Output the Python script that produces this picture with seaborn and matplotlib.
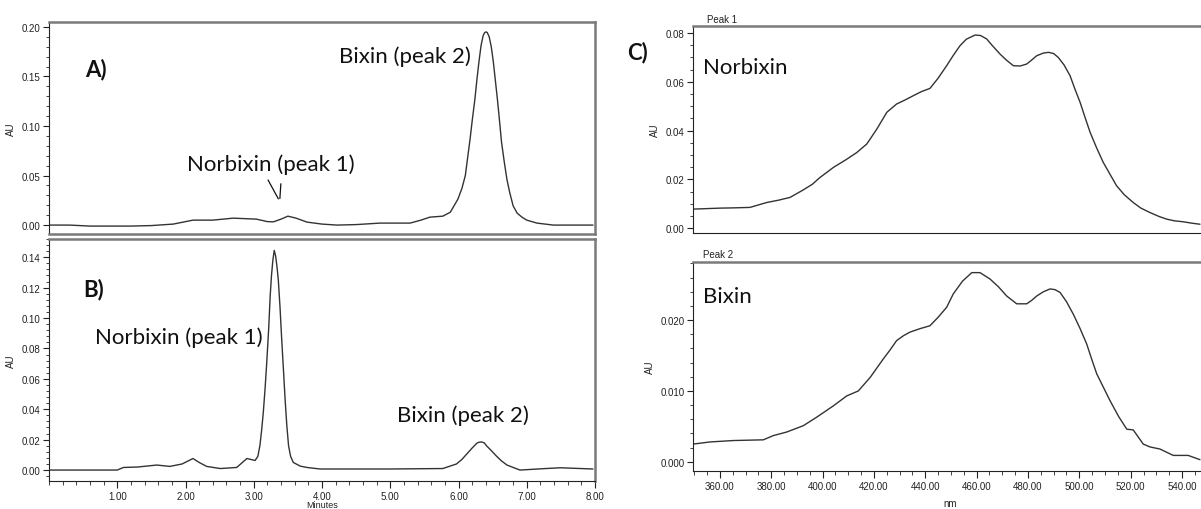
import numpy as np
import pandas as pd
import seaborn as sns
import matplotlib.pyplot as plt
from matplotlib.ticker import MultipleLocator, FormatStrFormatter

# Chromatogram A (sample) - retention time (min) vs absorbance
time_a = [0.0, 0.3, 0.6, 0.9, 1.2, 1.5, 1.82, 2.11, 2.4, 2.7, 3.04, 3.2, 3.29, 3.4, 3.5, 3.62,
          3.78, 4.0, 4.22, 4.5, 4.85, 5.29, 5.45, 5.58, 5.77, 5.88, 5.99, 6.05, 6.10, 6.13,
          6.17, 6.20, 6.24, 6.27, 6.30, 6.33, 6.36, 6.38, 6.40, 6.42, 6.45, 6.48, 6.51, 6.54,
          6.57, 6.60, 6.63, 6.67, 6.71, 6.75, 6.80, 6.86, 6.93, 7.0, 7.15, 7.39, 7.7, 7.97]
au_a = [0.0, 0.0, -0.001, -0.001, -0.001, -0.0005, 0.001, 0.005, 0.005, 0.007, 0.006, 0.0035,
        0.0033, 0.006, 0.009, 0.007, 0.003, 0.001, 0.0, 0.0005, 0.002, 0.002, 0.005, 0.008,
        0.009, 0.013, 0.026, 0.037, 0.050, 0.066, 0.087, 0.105, 0.127, 0.147, 0.165, 0.181,
        0.191, 0.194, 0.195, 0.1945, 0.190, 0.180, 0.165, 0.146, 0.127, 0.106, 0.084, 0.064,
        0.046, 0.033, 0.0195, 0.012, 0.008, 0.005, 0.002, 0.0, 0.0, 0.0]

# Chromatogram B (standards)
time_b = [0.0, 0.5, 1.0, 1.09, 1.3, 1.58, 1.77, 1.95, 2.11, 2.2, 2.31, 2.51, 2.75, 2.90, 3.02,
          3.06, 3.09, 3.115, 3.14, 3.165, 3.19, 3.22, 3.24, 3.26, 3.28, 3.30, 3.32, 3.34, 3.36,
          3.385, 3.41, 3.435, 3.46, 3.485, 3.51, 3.54, 3.58, 3.68, 3.78, 3.97, 4.41, 5.0, 5.77,
          5.97, 6.05, 6.12, 6.2, 6.27, 6.30, 6.34, 6.38, 6.41, 6.48, 6.56, 6.63, 6.71, 6.90,
          7.2, 7.49, 7.97]
au_b = [0.0, 0.0, 0.0, 0.0017, 0.002, 0.0033, 0.0024, 0.004, 0.0076, 0.005, 0.0024, 0.001,
        0.0017, 0.0076, 0.0063, 0.009, 0.016, 0.026, 0.038, 0.053, 0.0705, 0.094, 0.114, 0.128,
        0.138, 0.1445, 0.141, 0.134, 0.125, 0.107, 0.0857, 0.066, 0.046, 0.029, 0.016, 0.009,
        0.005, 0.0026, 0.0017, 0.0007, 0.0007, 0.0007, 0.001, 0.004, 0.007, 0.0105, 0.0145,
        0.0177, 0.0183, 0.0185, 0.0178, 0.016, 0.0128, 0.009, 0.006, 0.0033, 0.0, 0.0008,
        0.0015, 0.0007]

# UV-Vis spectrum of peak 1 (norbixin)
nm_1 = [349.6, 360.0, 365.0, 371.7, 378.2, 383.0, 387.3, 392.5, 396.0, 399.0, 404.2, 409.0,
        413.3, 417.2, 421.1, 425.0, 428.8, 432.0, 435.3, 438.5, 441.8, 445.0, 448.3, 451.0,
        453.5, 456.0, 459.4, 461.5, 463.9, 466.0, 469.1, 471.5, 474.3, 477.0, 479.5, 481.5,
        483.4, 486.0, 488.0, 490.0, 491.8, 494.0, 496.4, 498.3, 500.3, 502.2, 504.2, 506.7,
        509.3, 512.0, 514.5, 517.5, 521.0, 524.0, 527.5, 531.0, 534.0, 537.0, 540.5, 544.0,
        547.0]
au_1 = [0.0078, 0.0082, 0.0083, 0.0085, 0.0105, 0.0115, 0.0126, 0.0157, 0.018, 0.0208, 0.0249,
        0.028, 0.031, 0.0345, 0.0406, 0.0475, 0.0509, 0.0525, 0.0543, 0.056, 0.0573, 0.0615,
        0.0666, 0.071, 0.0748, 0.0775, 0.0792, 0.079, 0.0776, 0.075, 0.0714, 0.069, 0.0666,
        0.0665, 0.0673, 0.069, 0.0707, 0.0718, 0.0721, 0.0716, 0.070, 0.067, 0.0625, 0.057,
        0.0516, 0.0455, 0.0393, 0.033, 0.027, 0.022, 0.0174, 0.0137, 0.0105, 0.0082, 0.0064,
        0.0048, 0.0037, 0.003, 0.0026, 0.002, 0.0016]

# UV-Vis spectrum of peak 2 (bixin)
nm_2 = [349.6, 356.1, 365.2, 376.9, 380.8, 386.0, 392.5, 397.7, 404.2, 409.4, 413.9, 418.5,
        423.6, 426.3, 428.8, 431.5, 434.0, 438.0, 441.8, 445.0, 448.3, 450.9, 454.5, 458.1,
        461.3, 465.2, 468.5, 471.7, 475.6, 479.5, 481.5, 483.4, 486.0, 488.6, 490.5, 492.5,
        495.0, 497.7, 500.3, 502.9, 504.8, 506.8, 509.4, 512.0, 515.3, 518.5, 521.0, 524.9,
        527.5, 531.4, 536.6, 542.4, 547.0]
au_2 = [0.0025, 0.0028, 0.0030, 0.0031, 0.0037, 0.0042, 0.0051, 0.0063, 0.0079, 0.0093, 0.0100,
        0.0119, 0.0145, 0.0158, 0.0171, 0.0178, 0.0183, 0.0188, 0.0192, 0.0204, 0.0218, 0.0237,
        0.0255, 0.0267, 0.0267, 0.0258, 0.0247, 0.0234, 0.0223, 0.0223, 0.0228, 0.0234, 0.0240,
        0.0244, 0.0243, 0.0239, 0.0226, 0.0208, 0.0188, 0.0166, 0.0145, 0.0124, 0.0105, 0.0086,
        0.0064, 0.0046, 0.0045, 0.0025, 0.0021, 0.0018, 0.0009, 0.0009, 0.0003]

sns.set_style("ticks")
plt.rcParams['font.family'] = ['Liberation Sans', 'DejaVu Sans']
plt.rcParams['font.size'] = 7

line_col = "#333333"
spine_gray = "#7a7a7a"
label_font = dict(family=['Lato', 'DejaVu Sans'], fontsize=16, color="#111111")
bold_font = dict(family=['Lato', 'DejaVu Sans'], fontsize=16, fontweight='bold', color="#111111")

W, H = 1201, 510
fig = plt.figure(figsize=(W / 100, H / 100), dpi=100)


def box(l, t, r, b):
    return [l / W, 1 - b / H, (r - l) / W, (b - t) / H]


ax_a = fig.add_axes(box(49, 23, 595, 235))
ax_b = fig.add_axes(box(49, 240, 595, 482))
ax_c1 = fig.add_axes(box(693, 27, 1201, 234))
ax_c2 = fig.add_axes(box(693, 263, 1201, 472))

sns.lineplot(data=pd.DataFrame({"t": time_a, "au": au_a}), x="t", y="au", ax=ax_a,
             color=line_col, lw=1, estimator=None, sort=False)
sns.lineplot(data=pd.DataFrame({"t": time_b, "au": au_b}), x="t", y="au", ax=ax_b,
             color=line_col, lw=1, estimator=None, sort=False)
sns.lineplot(data=pd.DataFrame({"nm": nm_1, "au": au_1}), x="nm", y="au", ax=ax_c1,
             color=line_col, lw=1, estimator=None, sort=False)
sns.lineplot(data=pd.DataFrame({"nm": nm_2, "au": au_2}), x="nm", y="au", ax=ax_c2,
             color=line_col, lw=1, estimator=None, sort=False)

ax_a.set_xlim(0, 8)
ax_b.set_xlim(0, 8)
ax_a.set_ylim(-0.009, 0.205)
ax_b.set_ylim(-0.0072, 0.152)
ax_c1.set_xlim(349.5, 547.4)
ax_c2.set_xlim(349.5, 547.4)
ax_c1.set_ylim(-0.002, 0.0829)
ax_c2.set_ylim(-0.0013, 0.0282)

for ax in (ax_a, ax_b, ax_c1, ax_c2):
    ax.set_xlabel("")
    ax.set_ylabel("AU", fontsize=7, color="#222222")
    for s in ("left", "bottom"):
        ax.spines[s].set_color("#222222")
        ax.spines[s].set_linewidth(0.8)
    for s in ("top", "right"):
        ax.spines[s].set_color(spine_gray)
        ax.spines[s].set_linewidth(1.8)
    ax.tick_params(which="major", length=4, width=0.8, labelsize=7, colors="#222222", pad=2)
    ax.tick_params(which="minor", length=2, width=0.6, colors="#222222")

ax_c1.spines["right"].set_visible(False)
ax_c2.spines["right"].set_visible(False)
ax_a.spines["bottom"].set_color(spine_gray)
ax_a.spines["bottom"].set_linewidth(1.8)

# y ticks
ax_a.yaxis.set_major_locator(MultipleLocator(0.05))
ax_a.yaxis.set_minor_locator(MultipleLocator(0.01))
ax_b.yaxis.set_major_locator(MultipleLocator(0.02))
ax_b.yaxis.set_minor_locator(MultipleLocator(0.004))
ax_c1.yaxis.set_major_locator(MultipleLocator(0.02))
ax_c1.yaxis.set_minor_locator(MultipleLocator(0.005))
ax_c2.yaxis.set_major_locator(MultipleLocator(0.01))
ax_c2.yaxis.set_minor_locator(MultipleLocator(0.002))
for ax in (ax_a, ax_b, ax_c1):
    ax.yaxis.set_major_formatter(FormatStrFormatter("%.2f"))
ax_c2.yaxis.set_major_formatter(FormatStrFormatter("%.3f"))

# x ticks
for ax in (ax_a, ax_b):
    ax.xaxis.set_major_locator(MultipleLocator(1))
    ax.xaxis.set_minor_locator(MultipleLocator(0.2))
    ax.xaxis.set_major_formatter(FormatStrFormatter("%.2f"))
for ax in (ax_c1, ax_c2):
    ax.xaxis.set_major_locator(MultipleLocator(20))
    ax.xaxis.set_minor_locator(MultipleLocator(5))
    ax.xaxis.set_major_formatter(FormatStrFormatter("%.2f"))

ax_a.tick_params(axis="x", which="both", bottom=False, labelbottom=False)
ax_c1.tick_params(axis="x", which="both", bottom=False, labelbottom=False)
ax_b.set_xticks([1, 2, 3, 4, 5, 6, 7, 8])
ax_b.tick_params(axis="x", which="major", length=5)
ax_b.tick_params(axis="x", which="minor", length=3)
ax_c2.tick_params(axis="x", which="major", length=5)
ax_c2.tick_params(axis="x", which="minor", length=3)

# Annotations
ax_a.text(0.69, 0.158, "A)", ha="center", va="center", **bold_font)
ax_a.text(5.21, 0.171, "Bixin (peak 2)", ha="center", va="center", **label_font)
ax_a.text(3.25, 0.0616, "Norbixin (peak 1)", ha="center", va="center", **label_font)
ax_a.annotate("", xy=(3.38, 0.024), xytext=(3.19, 0.048),
              arrowprops=dict(arrowstyle="-", color="#111111", lw=0.9))
ax_a.annotate("", xy=(3.38, 0.024), xytext=(3.40, 0.0445),
              arrowprops=dict(arrowstyle="-", color="#111111", lw=0.9))

ax_b.text(0.66, 0.1197, "B)", ha="center", va="center", **bold_font)
ax_b.text(1.905, 0.0876, "Norbixin (peak 1)", ha="center", va="center", **label_font)
ax_b.text(6.07, 0.0366, "Bixin (peak 2)", ha="center", va="center", **label_font)

ax_c1.text(353.4, 0.066, "Norbixin", ha="left", va="center", **label_font)
ax_c2.text(353.4, 0.0234, "Bixin", ha="left", va="center", **label_font)

fig.text(638 / W, 1 - 53 / H, "C)", ha="center", va="center", **bold_font)
fig.text(707 / W, 1 - 20 / H, "Peak 1", ha="left", va="center", fontsize=7, color="#222222")
fig.text(703 / W, 1 - 255 / H, "Peak 2", ha="left", va="center", fontsize=7, color="#222222")
fig.text(322 / W, 1 - 506 / H, "Minutes", ha="center", va="center", fontsize=6.5, color="#222222")
fig.text(950 / W, 1 - 504 / H, "nm", ha="center", va="center", fontsize=7, color="#222222")

fig.savefig("out.png", dpi=100)
